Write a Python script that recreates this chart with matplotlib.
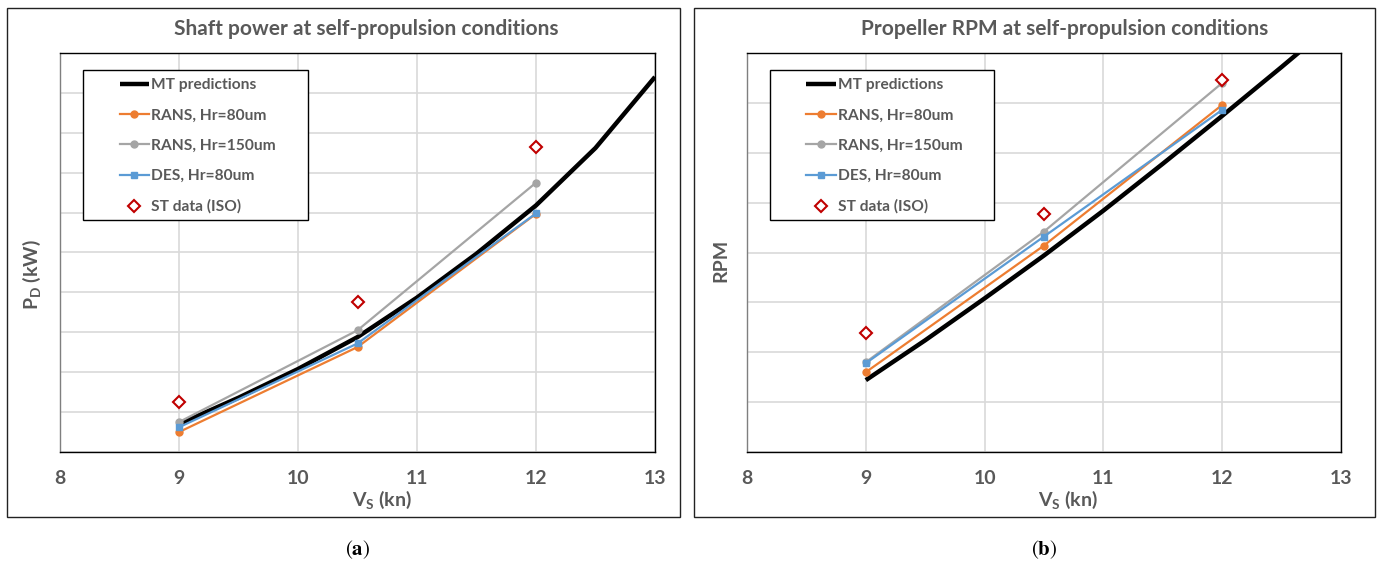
import matplotlib
matplotlib.use("Agg")
import matplotlib.pyplot as plt
from matplotlib.patches import Rectangle

# ship speed (kn)
vs_mt = [9, 9.5, 10, 10.5, 11, 11.5, 12, 12.5, 13]
vs_cfd = [9, 10.5, 12]

# shaft power, arbitrary scale (no tick labels on axis)
pd_mt = [0.70, 1.36, 2.08, 2.88, 3.87, 4.97, 6.18, 7.62, 9.40]
pd_rans80 = [0.50, 2.63, 5.97]
pd_rans150 = [0.75, 3.05, 6.75]
pd_des80 = [0.62, 2.72, 5.98]
pd_st = [1.25, 3.76, 7.65]

# propeller rpm, arbitrary scale
rpm_mt = [1.44, 2.24, 3.08, 3.94, 4.84, 5.78, 6.74, 7.72, 8.72]
rpm_rans80 = [1.60, 4.14, 6.96]
rpm_rans150 = [1.80, 4.42, 7.40]
rpm_des80 = [1.78, 4.32, 6.86]
rpm_st = [2.39, 4.78, 7.46]

x_ticks = [8, 9, 10, 11, 12, 13]

FONT = "Lato"
GREY_TXT = "#595959"

W, H = 1380, 565
fig = plt.figure(figsize=(W / 100, H / 100), dpi=100)


def px_box(x0, y0, x1, y1):
    # pixel box (top-left origin) -> figure fraction [l, b, w, h]
    return [x0 / W, 1 - y1 / H, (x1 - x0) / W, (y1 - y0) / H]


def draw_panel(axbox, framebox, title, title_x, ylabel, ylabel_pos, ymax,
               mt, rans80, rans150, des80, st, caption):
    # outer chart frame
    l, b, w, h = px_box(*framebox)
    fig.patches.append(Rectangle((l, b), w, h, transform=fig.transFigure,
                                 fill=False, edgecolor="#222222", lw=1.0))

    ax = fig.add_axes(px_box(*axbox))
    ax.plot(vs_mt, mt, color="black", lw=3.2, label="MT predictions",
            solid_capstyle="butt")
    ax.plot(vs_cfd, rans80, color="#ED7D31", lw=1.6, marker="o", ms=5,
            label="RANS, Hr=80um")
    ax.plot(vs_cfd, rans150, color="#A5A5A5", lw=1.6, marker="o", ms=5,
            label="RANS, Hr=150um")
    ax.plot(vs_cfd, des80, color="#5B9BD5", lw=1.6, marker="s", ms=5,
            label="DES, Hr=80um")
    ax.plot(vs_cfd, st, ls="none", marker="D", ms=6.5, mfc="white",
            mec="#C00000", mew=1.5, label="ST data (ISO)")

    ax.set_xlim(8, 13)
    ax.set_ylim(0, ymax)
    ax.set_xticks(x_ticks)
    ax.set_yticks(range(0, ymax + 1))
    ax.set_yticklabels([])
    ax.tick_params(axis="both", length=0)
    ax.tick_params(axis="x", pad=13, labelsize=14, labelcolor=GREY_TXT)
    for lab in ax.get_xticklabels():
        lab.set_fontfamily(FONT)
        lab.set_fontweight("bold")
    ax.grid(True, color="#D9D9D9", lw=1.2)
    ax.set_axisbelow(True)
    for sp in ax.spines.values():
        sp.set_color("black")
        sp.set_linewidth(1.0)
    ax.spines["left"].set_color("#7F7F7F")

    # axis titles; the x title sits a little right of centre
    ax.set_xlabel(r"V$_\mathregular{S}$ (kn)", fontsize=14, fontfamily=FONT,
                  fontweight="bold", color=GREY_TXT, va="top")
    ax.xaxis.set_label_coords(0.541, -0.092)
    ax.set_ylabel(ylabel, fontsize=14, fontfamily=FONT, fontweight="bold",
                  color=GREY_TXT)
    ax.yaxis.set_label_coords(*ylabel_pos)
    ax.set_title(title, fontsize=15, fontfamily=FONT, fontweight="bold",
                 color=GREY_TXT, pad=13, x=title_x)

    # legend box
    ax.add_patch(Rectangle((0.039, 0.581), 0.377, 0.376, transform=ax.transAxes,
                           facecolor="white", edgecolor="black", lw=1.0,
                           zorder=4))
    leg = ax.legend(loc="upper left", bbox_to_anchor=(0.1, 0.937),
                    frameon=False, borderpad=0, borderaxespad=0,
                    handlelength=1.9, handletextpad=0.12, labelspacing=1.05,
                    prop={"family": FONT, "weight": "bold", "size": 11.2})
    leg.set_zorder(5)
    for t in leg.get_texts():
        t.set_color(GREY_TXT)

    cx = (axbox[0] + axbox[2]) / 2
    fig.text(cx / W, 1 - 550 / H, caption, ha="center", va="center",
             fontsize=15, math_fontfamily="stix")
    return ax


draw_panel((60, 53, 655, 452), (7, 8, 680, 517),
           "Shaft power at self-propulsion conditions", 0.514,
           r"P$_\mathregular{D}$ (kW)", (-0.029, 0.444), 10,
           pd_mt, pd_rans80, pd_rans150, pd_des80, pd_st,
           r"$(\mathbf{a})$")

draw_panel((747, 53, 1341, 452), (694, 8, 1375, 517),
           "Propeller RPM at self-propulsion conditions", 0.534,
           "RPM", (-0.030, 0.48), 8,
           rpm_mt, rpm_rans80, rpm_rans150, rpm_des80, rpm_st,
           r"$(\mathbf{b})$")

fig.savefig("out.png", dpi=100)
